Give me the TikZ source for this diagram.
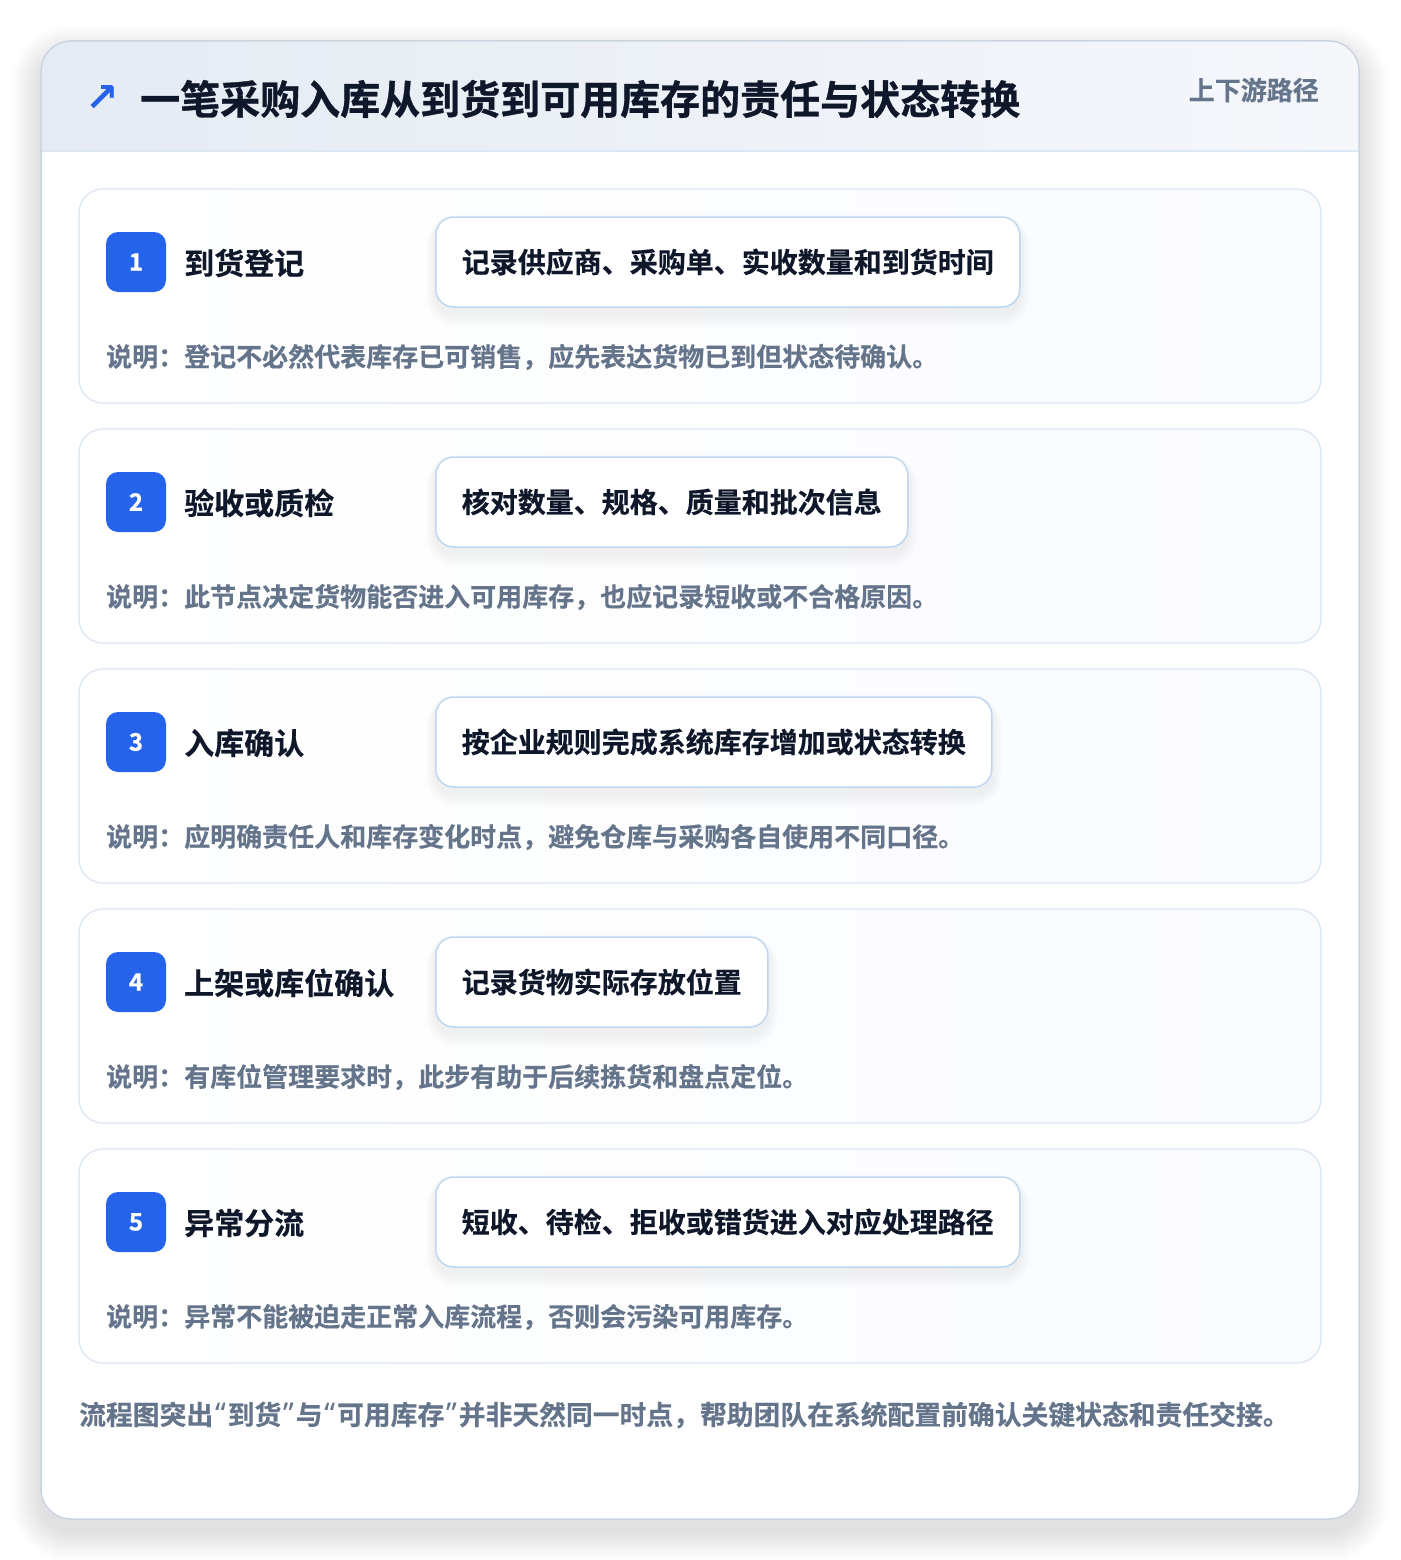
\documentclass[tikz,border=0pt]{standalone}
\usepackage{fontspec}
\newfontfamily\cjk{Noto Sans CJK SC}[BoldFont={Noto Sans CJK SC Bold}, BoldFeatures={FakeBold=0.35}]
\newfontfamily\cjkh{Noto Sans CJK SC Bold}[FakeBold=0.9]
\newfontfamily\symf{DejaVu Sans}
\newfontfamily\latf{Noto Sans}
\definecolor{ink}{HTML}{0F172A}
\definecolor{muted}{HTML}{64748B}
\definecolor{accent}{HTML}{2563EB}
\definecolor{cardborder}{HTML}{CBD5E1}
\definecolor{stepborder}{HTML}{D9E6F6}
\definecolor{descborder}{HTML}{BFD6F2}
\definecolor{hdrL}{HTML}{E5EBF3}
\definecolor{hdrR}{HTML}{F5F7FB}
\definecolor{hdrline}{HTML}{DCE7F4}
\definecolor{stepR}{HTML}{FAFBFD}
\newcommand\ql{\makebox[14.5pt][c]{\latf\bfseries\fontsize{30}{30}\selectfont “}}
\newcommand\qr{\makebox[14.5pt][c]{\latf\bfseries\fontsize{30}{30}\selectfont ”}}
\tikzset{
  stepcardbox/.style={draw=stepborder, line width=1.2pt, rounded corners=24pt, left color=white, right color=stepR},
  badgebox/.style={fill=accent, rounded corners=12pt, minimum width=60pt, minimum height=60pt, inner sep=0pt, text=white, font=\cjkh\fontsize{24}{24}\selectfont},
  steptitle/.style={anchor=west, inner sep=0pt, text=ink, font=\cjk\bfseries\fontsize{30}{30}\selectfont},
  descbox/.style={anchor=west, draw=descborder, line width=1.5pt, fill=white, rounded corners=18pt, minimum height=90pt, inner xsep=26pt, inner ysep=0pt, text=ink, font=\cjk\bfseries\fontsize{28}{28}\selectfont},
  notetext/.style={anchor=west, inner sep=0pt, text=muted, font=\cjk\bfseries\fontsize{26}{26}\selectfont},
}
\newcommand\stepcard[5]{%
  \path[stepcardbox] (79,#2) rectangle (1321,#2+214);
  \node[descbox, opacity=0] (ghost#1) at (435,#2+73) {#4};
  \foreach \k in {1,...,14}{
    \fill[black!70!blue, opacity=0.005, rounded corners=18pt+\k pt]
      ([xshift=-0.7*\k pt, yshift=0.6*\k pt-6pt]ghost#1.north west) rectangle ([xshift=0.7*\k pt, yshift=-\k pt-6pt]ghost#1.south east);
  }
  \node[badgebox] (badge#1) at (136,#2+73) {#1};
  \node[steptitle] (title#1) at (184,#2+74) {#3};
  \node[descbox] (desc#1) at (435,#2+73) {#4};
  \node[notetext] (note#1) at (106,#2+168) {#5};
}
\begin{document}
\begin{tikzpicture}[x=1pt,y=-1pt]
\useasboundingbox (0,0) rectangle (1400,1560);
\fill[white] (0,0) rectangle (1400,1560);
% soft shadow of outer card
\foreach \k in {1,...,30}{
  \fill[black, opacity=0.0042, rounded corners=30pt+\k pt] (41-\k,41-\k+14) rectangle (1359+\k,1519+\k+12);
}
\path[fill=white, rounded corners=30pt] (41,41) rectangle (1359,1519);
\begin{scope}
  \clip[rounded corners=30pt] (41,41) rectangle (1359,1519);
  \shade[left color=hdrL, right color=hdrR] (41,41) rectangle (1359,151);
\end{scope}
\draw[hdrline, line width=1.5pt] (41,151) -- (1359,151);
\draw[cardborder, line width=1.5pt, rounded corners=30pt] (41,41) rectangle (1359,1519);
% header
\node[anchor=center, inner sep=0pt, text=accent, font=\symf\bfseries\fontsize{40}{40}\selectfont] (icon) at (102,99) {↗};
\node[anchor=west, inner sep=0pt, text=ink, font=\cjkh\fontsize{40}{40}\selectfont] (heading) at (140,99) {一笔采购入库从到货到可用库存的责任与状态转换};
\node[anchor=east, inner sep=0pt, text=muted, font=\cjk\bfseries\fontsize{26}{26}\selectfont] (tag) at (1319,90) {上下游路径};
% steps
\stepcard{1}{189}{到货登记}{记录供应商、采购单、实收数量和到货时间}{说明：登记不必然代表库存已可销售，应先表达货物已到但状态待确认。}
\stepcard{2}{429}{验收或质检}{核对数量、规格、质量和批次信息}{说明：此节点决定货物能否进入可用库存，也应记录短收或不合格原因。}
\stepcard{3}{669}{入库确认}{按企业规则完成系统库存增加或状态转换}{说明：应明确责任人和库存变化时点，避免仓库与采购各自使用不同口径。}
\stepcard{4}{909}{上架或库位确认}{记录货物实际存放位置}{说明：有库位管理要求时，此步有助于后续拣货和盘点定位。}
\stepcard{5}{1149}{异常分流}{短收、待检、拒收或错货进入对应处理路径}{说明：异常不能被迫走正常入库流程，否则会污染可用库存。}
% footer
\node[anchor=west, inner sep=0pt, text=muted, font=\cjk\bfseries\fontsize{26.8}{26.8}\selectfont] (foot) at (79,1415) {流程图突出\ql 到货\qr 与\ql 可用库存\qr 并非天然同一时点，帮助团队在系统配置前确认关键状态和责任交接。};
\end{tikzpicture}
\end{document}
